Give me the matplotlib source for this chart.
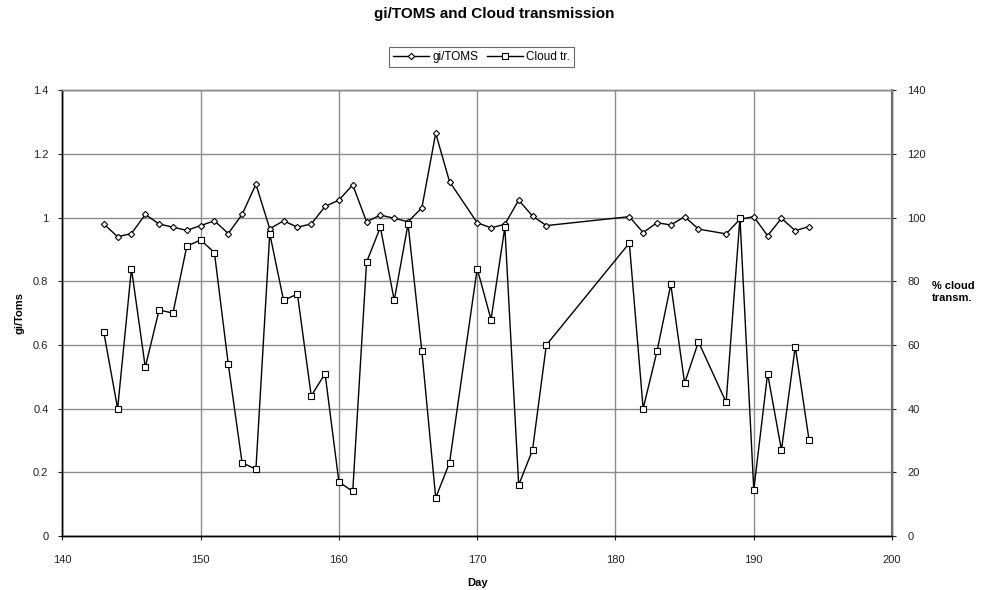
import numpy as np
import matplotlib
matplotlib.use("Agg")
import matplotlib.pyplot as plt

plt.rcParams['font.family'] = ['Liberation Sans', 'DejaVu Sans']

# day of year for each measurement
days = list(range(143, 169)) + list(range(170, 176)) + list(range(181, 187)) + list(range(188, 195))

# gi/TOMS ratio
gi_toms = [0.98, 0.94, 0.95, 1.01, 0.98, 0.97, 0.96, 0.975, 0.99, 0.95,
           1.01, 1.105, 0.965, 0.99, 0.97, 0.98, 1.035, 1.055, 1.103, 0.987,
           1.008, 0.998, 0.987, 1.031, 1.265, 1.113,
           0.984, 0.968, 0.979, 1.055, 1.005, 0.975,
           1.003, 0.953, 0.984, 0.977, 1.003, 0.964,
           0.949, 0.995, 1.003, 0.943, 0.998, 0.959, 0.972]

# cloud transmission in percent
cloud_tr = [64, 40, 84, 53, 71, 70, 91, 93, 89, 54,
            23, 21, 95, 74, 76, 44, 51, 17, 14, 86,
            97, 74, 98, 58, 12, 23,
            84, 68, 97, 16, 27, 60,
            92, 40, 58, 79, 48, 61,
            42, 100, 14.5, 51, 27, 59.5, 30]

left_ticks = [0, 0.2, 0.4, 0.6, 0.8, 1, 1.2, 1.4]
left_labels = ["0", "0.2", "0.4", "0.6", "0.8", "1", "1.2", "1.4"]
right_ticks = [0, 20, 40, 60, 80, 100, 120, 140]
x_ticks = [140, 150, 160, 170, 180, 190, 200]

fig = plt.figure(figsize=(9.89, 5.9), dpi=100)
ax = fig.add_axes([0.063, 0.0915, 0.839, 0.7555])
ax2 = ax.twinx()

l1, = ax.plot(days, gi_toms, color='black', lw=1, marker='D', ms=3.2,
              mfc='white', mec='black', mew=0.8, label='gi/TOMS', zorder=3)
l2, = ax2.plot(days, cloud_tr, color='black', lw=1, marker='s', ms=5,
               mfc='white', mec='black', mew=0.8, label='Cloud tr.', zorder=3)

ax.set_xlim(140, 200)
ax.set_ylim(0, 1.4)
ax2.set_ylim(0, 140)
ax.set_xticks(x_ticks)
ax.set_yticks(left_ticks)
ax.set_yticklabels(left_labels)
ax2.set_yticks(right_ticks)

ax.grid(True, color='#8c8c8c', lw=1)
ax.set_axisbelow(True)

for a in (ax, ax2):
    a.tick_params(labelsize=8, length=3, width=0.8, colors='#222222')
    for s in a.spines.values():
        s.set_linewidth(1)
ax.tick_params(axis='x', pad=11)
ax.tick_params(axis='y', pad=7)
ax2.tick_params(axis='y', pad=8)
ax.spines['left'].set_color('black')
ax.spines['bottom'].set_color('black')
ax.spines['top'].set_color('#8c8c8c')
ax2.spines['right'].set_color('#6e6e6e')
ax2.spines['right'].set_linewidth(1.5)
ax2.spines['top'].set_color('#8c8c8c')

ax.set_xlabel("Day", fontsize=8, fontweight='bold', labelpad=9)
ax.set_ylabel("gi/Toms", fontsize=8, fontweight='bold', labelpad=6)
fig.text(0.942, 0.505, "% cloud\ntransm.", fontsize=8, fontweight='bold',
         ha='left', va='center')

fig.suptitle("gi/TOMS and Cloud transmission", fontsize=11, fontweight='bold', y=0.988)

leg = fig.legend(handles=[l1, l2], loc='center', bbox_to_anchor=(0.487, 0.903),
                 ncol=2, fontsize=8.5, frameon=True, fancybox=False,
                 handlelength=3, handletextpad=0.3, columnspacing=0.8,
                 borderpad=0.35)
leg.get_frame().set_edgecolor('#444444')
leg.get_frame().set_linewidth(0.8)

fig.savefig("out.png", dpi=100)
